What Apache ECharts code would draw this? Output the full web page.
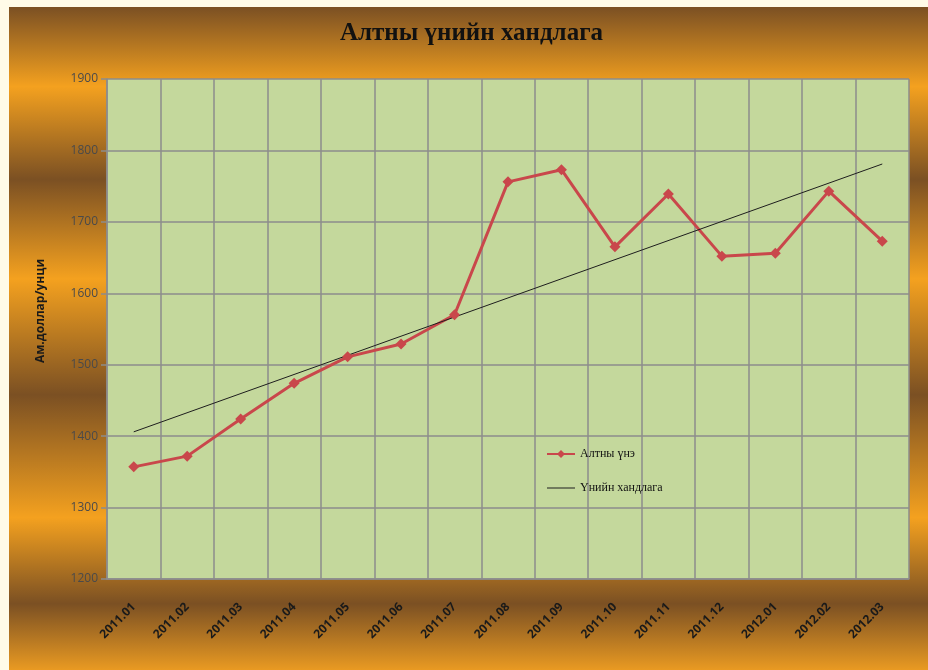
<!DOCTYPE html>
<html>
<head>
<meta charset="utf-8">
<script src="https://cdn.jsdelivr.net/npm/echarts@6/dist/echarts.min.js"></script>
<style>
    html, body { margin: 0; padding: 0; background: #fffbe8; }
    #chart { position: absolute; left: 9px; top: 7px; width: 919px; height: 663px; }
</style>
</head>
<body>
<div id="chart"></div>
<script>
const months = ["2011.01", "2011.02", "2011.03", "2011.04", "2011.05", "2011.06", "2011.07", "2011.08",
    "2011.09", "2011.10", "2011.11", "2011.12", "2012.01", "2012.02", "2012.03"];
const goldPrice = [1357, 1372, 1424, 1474, 1511, 1529, 1570, 1756, 1773, 1665, 1739, 1652, 1656, 1743, 1673];
// trend line endpoints (first and last month)
const trendPoints = [["2011.01", 1406], ["2012.03", 1781]];

const brown = "#7b5023";
const orange = "#f4a11f";

let chart = echarts.init(document.getElementById("chart"));

let options = {
    backgroundColor: {
        type: "linear", x: 0, y: 0, x2: 0, y2: 1,
        colorStops: [
            { offset: 0, color: brown },
            { offset: 0.12, color: orange },
            { offset: 0.26, color: brown },
            { offset: 0.41, color: orange },
            { offset: 0.585, color: brown },
            { offset: 0.77, color: orange },
            { offset: 0.9, color: brown },
            { offset: 1, color: "#e99a22" }
        ]
    },
    title: {
        text: "Алтны үнийн хандлага",
        left: 331,
        top: 14,
        padding: 0,
        textStyle: {
            fontFamily: "Liberation Serif",
            fontWeight: "bold",
            fontSize: 25,
            color: "#111"
        }
    },
    legend: {
        orient: "vertical",
        left: 532,
        top: 436,
        itemGap: 22,
        itemWidth: 28,
        itemHeight: 10,
        textStyle: {
            fontFamily: "Liberation Serif",
            fontSize: 12,
            color: "#111"
        },
        data: [
            { name: "Алтны үнэ" },
            { name: "Үнийн хандлага", icon: "path://M0,0L28,0L28,1L0,1Z", itemStyle: { color: "#1e1e1e" } }
        ]
    },
    grid: {
        left: 98,
        right: 19,
        top: 72,
        bottom: 91,
        show: true,
        backgroundColor: "#c4d89c",
        borderWidth: 0
    },
    xAxis: {
        type: "category",
        data: months,
        boundaryGap: true,
        axisLine: { lineStyle: { color: "#8c8c8c", width: 1.5 } },
        axisTick: { length: 6, lineStyle: { color: "#8c8c8c", width: 1.5 } },
        splitLine: { show: true, lineStyle: { color: "#8c8c8c", width: 1.5 } },
        axisLabel: {
            rotate: 45,
            margin: 26,
            fontFamily: "Open Sans",
            fontWeight: "bold",
            fontSize: 12,
            color: "#1a1a1a"
        }
    },
    yAxis: {
        type: "value",
        min: 1200,
        max: 1900,
        interval: 100,
        name: "Ам.доллар/унци",
        nameLocation: "middle",
        nameGap: 60,
        nameTextStyle: {
            fontFamily: "Open Sans",
            fontWeight: "bold",
            fontSize: 12,
            color: "#1a1a1a",
            padding: [0, 0, 0, 36]
        },
        axisLine: { show: true, lineStyle: { color: "#8c8c8c", width: 1.5 } },
        axisTick: { show: true, length: 6, lineStyle: { color: "#8c8c8c", width: 1.5 } },
        splitLine: { show: true, lineStyle: { color: "#8c8c8c", width: 1.5 } },
        axisLabel: {
            margin: 9,
            formatter: (v) => String(v),
            fontFamily: "Open Sans",
            fontSize: 12,
            color: "#4a4a4a"
        }
    },
    series: [
        {
            name: "Алтны үнэ",
            type: "line",
            data: goldPrice,
            color: "#c9474b",
            symbol: "diamond",
            symbolSize: 11,
            lineStyle: { width: 3 },
            animation: false
        },
        {
            name: "Үнийн хандлага",
            type: "line",
            data: trendPoints,
            color: "#1e1e1e",
            symbol: "none",
            lineStyle: { width: 1 },
            animation: false
        }
    ]
};
chart.setOption(options);
</script>
</body>
</html>
